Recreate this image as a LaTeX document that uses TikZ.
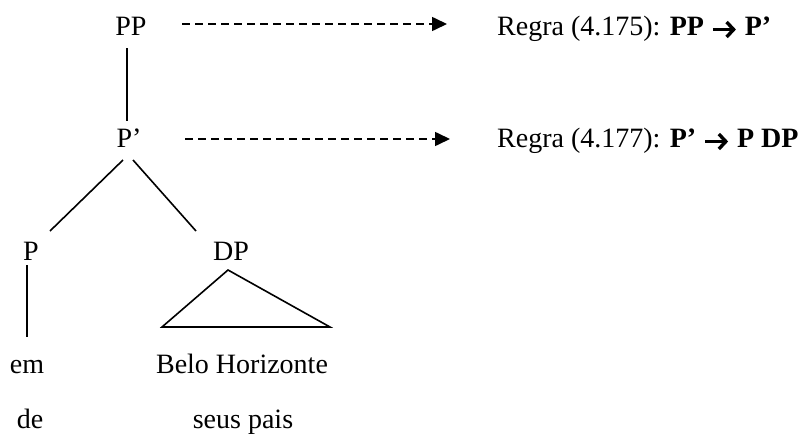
\documentclass[tikz,border=0pt]{standalone}
\usepackage{fontspec}
\setmainfont{Liberation Serif}
\usetikzlibrary{arrows.meta,calc}
\newcommand{\rarr}{\tikz[x=1pt,y=1pt,baseline=0pt]\draw[line width=3.8pt,-{Straight Barb[length=7pt,width=15pt,line width=3.4pt]}] (0,5.5) -- (23,5.5);}
\begin{document}
\begin{tikzpicture}[x=1pt,y=-1pt,
  lbl/.style={inner sep=0pt,anchor=base,font=\fontsize{28}{33}\selectfont},
  rule/.style={inner sep=0pt,anchor=base west,font=\fontsize{28}{33}\selectfont},
  branch/.style={line width=1.6pt},
  derive/.style={line width=1.6pt,dash pattern=on 8pt off 5pt,-{Triangle[length=15pt,width=14pt]}}]
\useasboundingbox[fill=white] (0,0) rectangle (799,434);
% tree labels
\node[lbl] (PP) at (131,35) {PP};
\node[lbl] (Pb) at (129,147) {P’};
\node[lbl] (P) at (31,260) {P};
\node[lbl] (DP) at (231,260) {DP};
\node[lbl] (em) at (27,373) {em};
\node[lbl] (BH) at (242,373) {Belo Horizonte};
\node[lbl] (de) at (30,428) {de};
\node[lbl] (sp) at (243,428) {seus pais};
% rules
\node[rule] (R1) at (497,35) {Regra (4.175): \textbf{PP \rarr{} P’}};
\node[rule] (R2) at (497,147) {Regra (4.177): \textbf{P’ \rarr{} P DP}};
% branches
\draw[branch] ($(PP.base)+(-4,13)$) -- ($(Pb.base)+(-2,-26)$);
\draw[branch] ($(Pb.base)+(-6,13)$) -- ($(P.base)+(19,-29)$);
\draw[branch] ($(Pb.base)+(4,13)$) -- ($(DP.base)+(-35,-29)$);
\draw[branch] ($(P.base)+(-4,5)$) -- ($(em.base)+(0,-36)$);
\coordinate (tA) at ($(DP.base)+(-3,10)$);
\coordinate (tL) at ($(BH.base)+(-80,-46)$);
\coordinate (tR) at ($(BH.base)+(88,-46)$);
\draw[branch,line join=miter] (tA) -- (tL) -- (tR) -- cycle;
% derivation arrows
\draw[derive] ($(PP.base)+(51,-11)$) -- ($(R1.base west)+(-50,-11)$);
\draw[derive] ($(Pb.base)+(56,-8)$) -- ($(R2.base west)+(-47,-8)$);
\end{tikzpicture}
\end{document}
